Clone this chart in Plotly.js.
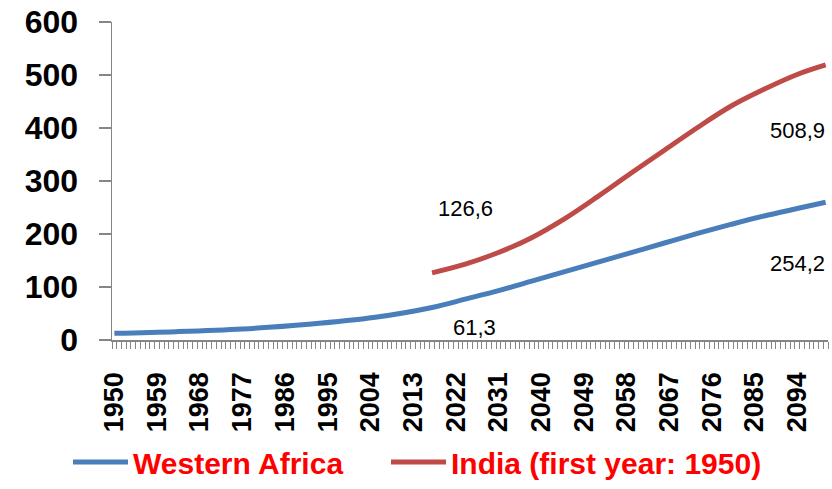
<!DOCTYPE html>
<html>
<head>
<meta charset="utf-8">
<script src="https://cdn.plot.ly/plotly-3.0.1.min.js"></script>
<style>html,body{margin:0;padding:0;background:#fff}#chart{width:832px;height:489px}</style>
</head>
<body>
<div id="chart"></div>
<script>
// Western Africa
const westYears = [1950, 1963, 1977, 1991, 2005, 2017, 2024, 2031, 2038, 2045, 2052, 2059, 2066, 2073, 2080, 2087, 2094, 2100];
const westValues = [12.6, 15.7, 20.8, 29.6, 42.8, 61.3, 77, 93, 111, 129, 147, 165, 183, 201, 218, 234, 248, 260];
// India (first year: 1950), plotted from 2017
const indiaYears = [2017, 2024, 2031, 2038, 2045, 2052, 2059, 2066, 2073, 2080, 2087, 2094, 2100];
const indiaValues = [126.6, 143, 165, 193, 229, 271, 315, 358, 401, 441, 473, 501, 519];
// tick labels
const xTickYears = [1950, 1959, 1968, 1977, 1986, 1995, 2004, 2013, 2022, 2031, 2040, 2049, 2058, 2067, 2076, 2085, 2094];
const yTicks = [0, 100, 200, 300, 400, 500, 600];
// data labels
const labelTexts = ["126,6", "508,9", "61,3", "254,2"];
const labelYears = [2024, 2094, 2026, 2094];
const labelValues = [249, 396, 24.5, 145];

const traces = [
  {x: westYears, y: westValues, type: 'scatter', mode: 'lines', name: 'Western Africa',
   line: {color: '#4A7EBB', width: 5, shape: 'spline', smoothing: 1}, legend: 'legend'},
  {x: indiaYears, y: indiaValues, type: 'scatter', mode: 'lines', name: 'India (first year: 1950)',
   line: {color: '#BE4B48', width: 5, shape: 'spline', smoothing: 1}, legend: 'legend2'}
];

const legendFont = {family: 'Liberation Sans, Arial, sans-serif', size: 30, color: '#FF0000', weight: 'bold'};
const legendY = (340 - 488) / 318;

const layout = {
  width: 832, height: 489,
  margin: {l: 112, r: 4, t: 22, b: 149, autoexpand: false},
  paper_bgcolor: '#fff', plot_bgcolor: '#fff',
  showlegend: true,
  xaxis: {
    range: [1949.5, 2100.5],
    tickvals: xTickYears, ticktext: xTickYears.map(String),
    tickangle: -90,
    ticks: 'outside', ticklen: 8, tickcolor: 'rgba(0,0,0,0)',
    ticklabelstandoff: 12,
    minor: {ticks: 'outside', ticklen: 7, tickcolor: '#868686', tick0: 1949.5, dtick: 1, tickwidth: 1},
    showline: true, linecolor: '#868686', linewidth: 1.5,
    showgrid: false, zeroline: false,
    tickfont: {family: 'Liberation Sans, Arial, sans-serif', size: 27, color: '#000', weight: 'bold'}
  },
  yaxis: {
    range: [0, 600], tickvals: yTicks,
    ticks: 'outside', ticklen: 12, tickcolor: '#868686', tickwidth: 1.5,
    ticklabelstandoff: 14,
    showline: true, linecolor: '#868686', linewidth: 1.5,
    showgrid: false, zeroline: false,
    tickfont: {family: 'Liberation Sans, Arial, sans-serif', size: 32, color: '#000', weight: 'bold'}
  },
  legend: {orientation: 'h', x: (68 - 112) / 716, xanchor: 'left', y: legendY, yanchor: 'bottom',
           itemwidth: 55, font: legendFont, bgcolor: 'rgba(0,0,0,0)', borderwidth: 0},
  legend2: {orientation: 'h', x: (386 - 112) / 716, xanchor: 'left', y: legendY, yanchor: 'bottom',
            itemwidth: 55, font: legendFont, bgcolor: 'rgba(0,0,0,0)', borderwidth: 0},
  annotations: labelTexts.map((t, i) => ({
    x: labelYears[i], y: labelValues[i], xref: 'x', yref: 'y', text: t, showarrow: false,
    xanchor: 'center', yanchor: 'middle',
    font: {family: 'Liberation Sans, Arial, sans-serif', size: 22, color: '#000'}
  }))
};

Plotly.newPlot('chart', traces, layout, {displayModeBar: false, staticPlot: true});
</script>
</body>
</html>
